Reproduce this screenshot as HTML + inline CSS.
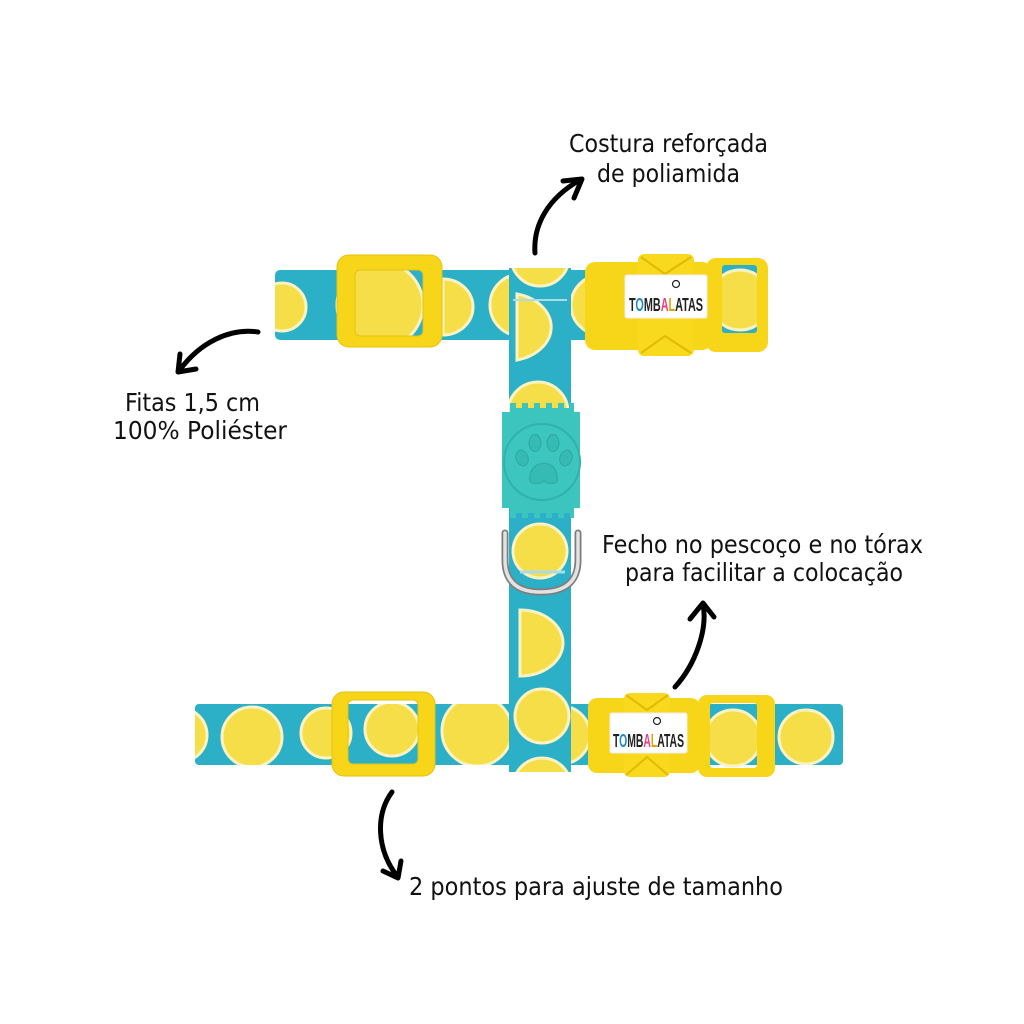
<!DOCTYPE html>
<html>
<head>
<meta charset="utf-8">
<style>
html,body{margin:0;padding:0;background:#fff;}
svg{display:block;}
.t{font-family:"DejaVu Sans","Liberation Sans",sans-serif;font-size:25px;fill:#111;}
.lb{font-family:"Liberation Sans",sans-serif;font-size:18px;font-weight:bold;}
</style>
</head>
<body>
<svg width="1024" height="1024" viewBox="0 0 1024 1024" xmlns="http://www.w3.org/2000/svg">
<defs>
<clipPath id="ctop"><rect x="275" y="270" width="320" height="70" rx="5"/></clipPath>
<clipPath id="cbot"><rect x="195" y="704" width="648" height="61" rx="4"/></clipPath>
<clipPath id="cver"><rect x="509" y="268" width="62" height="504"/></clipPath>
<clipPath id="cwin1"><rect x="722" y="265" width="35" height="68" rx="3"/></clipPath>
<clipPath id="cwin2"><rect x="710" y="703" width="47" height="65" rx="3"/></clipPath>
</defs>
<rect width="1024" height="1024" fill="#fff"/>

<!-- TOP STRAP -->
<rect x="275" y="270" width="320" height="70" rx="5" fill="#2cb0c8"/>
<g clip-path="url(#ctop)" fill="#f6de48" stroke="#fbf3c4" stroke-width="3">
  <circle cx="282" cy="307" r="24"/>
  <circle cx="380" cy="305" r="43"/>
  <path d="M443,279 A30,28 0 0 1 443,335 Z"/>
  <circle cx="521" cy="305" r="31"/>
  <circle cx="601" cy="305" r="30"/>
</g>

<!-- BOTTOM STRAP -->
<rect x="195" y="704" width="648" height="61" rx="4" fill="#2cb0c8"/>
<g clip-path="url(#cbot)" fill="#f6de48" stroke="#fbf3c4" stroke-width="3">
  <circle cx="180" cy="735" r="27"/>
  <circle cx="252" cy="737" r="30"/>
  <circle cx="326" cy="733" r="25"/>
  <circle cx="392" cy="729" r="27"/>
  <circle cx="477" cy="731" r="35"/>
  <circle cx="561" cy="735" r="29"/>
  <circle cx="806" cy="737" r="27"/>
</g>

<!-- VERTICAL STRAP -->
<rect x="509" y="268" width="62" height="504" fill="#2cb0c8"/>
<g clip-path="url(#cver)" fill="#f6de48" stroke="#fbf3c4" stroke-width="3">
  <circle cx="540" cy="257" r="29"/>
  <path d="M517,294 A45,34 0 0 1 517,360 Z"/>
  <circle cx="538" cy="412" r="30"/>
  <circle cx="540" cy="551" r="27"/>
  <path d="M520,610 A43,33 0 0 1 520,676 Z"/>
  <circle cx="542" cy="716" r="27"/>
  <circle cx="542" cy="787" r="29"/>
</g>
<line x1="513" y1="300" x2="567" y2="300" stroke="#a9dbe8" stroke-width="2"/>
<line x1="520" y1="572" x2="565" y2="572" stroke="#a9dbe8" stroke-width="3"/>

<!-- SLIDES -->
<path fill="#f7d61a" fill-rule="evenodd" stroke="#e6c20c" stroke-width="1" d="M349,255 H430 A12,12 0 0 1 442,267 V335 A12,12 0 0 1 430,347 H349 A12,12 0 0 1 337,335 V267 A12,12 0 0 1 349,255 Z M360,270 H418 A5,5 0 0 1 423,275 V331 A5,5 0 0 1 418,336 H360 A5,5 0 0 1 355,331 V275 A5,5 0 0 1 360,270 Z"/>
<path fill="#f7d61a" fill-rule="evenodd" stroke="#e6c20c" stroke-width="1" d="M344,692 H423 A12,12 0 0 1 435,704 V764 A12,12 0 0 1 423,776 H344 A12,12 0 0 1 332,764 V704 A12,12 0 0 1 344,692 Z M353,700 H413 A5,5 0 0 1 418,705 V759 A5,5 0 0 1 413,764 H353 A5,5 0 0 1 348,759 V705 A5,5 0 0 1 353,700 Z"/>

<!-- TOP BUCKLE -->
<rect x="700" y="265" width="65" height="70" fill="#2cb0c8"/>
<g clip-path="url(#cwin1)"><circle cx="740" cy="300" r="30" fill="#f6de48" stroke="#fbf3c4" stroke-width="3"/></g>
<rect x="585" y="262" width="127" height="88" rx="10" fill="#f7d61a"/>
<rect x="638" y="254" width="56" height="102" rx="6" fill="#f8d91e"/>
<path d="M641,257 L665,274 L691,257 M641,353 L665,336 L691,353" fill="none" stroke="#dfbb05" stroke-width="2"/>
<path fill="#f7d61a" fill-rule="evenodd" d="M716,258 H758 A10,10 0 0 1 768,268 V342 A10,10 0 0 1 758,352 H716 A10,10 0 0 1 706,342 V268 A10,10 0 0 1 716,258 Z M725,265 H754 A3,3 0 0 1 757,268 V330 A3,3 0 0 1 754,333 H725 A3,3 0 0 1 722,330 V268 A3,3 0 0 1 725,265 Z"/>
<rect x="625" y="275" width="82" height="43" rx="2" fill="#fff" stroke="#eee" stroke-width="1"/>
<circle cx="676" cy="284" r="3.5" fill="none" stroke="#222" stroke-width="1.2"/>
<text class="lb" x="629" y="311" textLength="74" lengthAdjust="spacingAndGlyphs"><tspan fill="#222">T</tspan><tspan fill="#1e8ccc">O</tspan><tspan fill="#222">MB</tspan><tspan fill="#e8408a">A</tspan><tspan fill="#d7a800">L</tspan><tspan fill="#222">ATAS</tspan></text>

<!-- BOTTOM BUCKLE -->
<rect x="695" y="705" width="70" height="60" fill="#2cb0c8"/>
<g clip-path="url(#cwin2)"><circle cx="733" cy="738" r="28" fill="#f6de48" stroke="#fbf3c4" stroke-width="3"/></g>
<rect x="588" y="698" width="112" height="75" rx="9" fill="#f7d61a"/>
<rect x="624" y="693" width="46" height="84" rx="6" fill="#f8d91e"/>
<path d="M626,695 L647,710 L668,695 M626,775 L647,757 L668,775" fill="none" stroke="#dfbb05" stroke-width="2"/>
<path fill="#f7d61a" fill-rule="evenodd" d="M707,695 H766 A9,9 0 0 1 775,704 V768 A9,9 0 0 1 766,777 H707 A9,9 0 0 1 698,768 V704 A9,9 0 0 1 707,695 Z M713,703 H754 A3,3 0 0 1 757,706 V765 A3,3 0 0 1 754,768 H713 A3,3 0 0 1 710,765 V706 A3,3 0 0 1 713,703 Z"/>
<rect x="610" y="713" width="77" height="40" rx="2" fill="#fff" stroke="#eee" stroke-width="1"/>
<circle cx="657" cy="721" r="3.5" fill="none" stroke="#222" stroke-width="1.2"/>
<text class="lb" x="613" y="747" textLength="71" lengthAdjust="spacingAndGlyphs"><tspan fill="#222">T</tspan><tspan fill="#1e8ccc">O</tspan><tspan fill="#222">MB</tspan><tspan fill="#e8408a">A</tspan><tspan fill="#d7a800">L</tspan><tspan fill="#222">ATAS</tspan></text>

<!-- D-RING -->
<path d="M505,533 V560 Q505,592 541,592 Q578,592 578,560 V533" fill="none" stroke="#7d7d7d" stroke-width="7" stroke-linecap="round"/>
<path d="M505,533 V560 Q505,592 541,592 Q578,592 578,560 V533" fill="none" stroke="#e2e2e2" stroke-width="3.5" stroke-linecap="round"/>

<!-- PAW CLIP -->
<g>
  <path fill="#3cc4be" d="M510,403 h6 v5 h6 v-5 h6 v5 h6 v-5 h6 v5 h6 v-5 h6 v5 h6 v-5 h6 v5 h6 v-5 h4 v9 h6 v96 h-6 v10 h-4 v-5 h-6 v5 h-6 v-5 h-6 v5 h-6 v-5 h-6 v5 h-6 v-5 h-6 v5 h-6 v-5 h-6 v5 h-6 v-10 h-8 v-96 h8 Z"/>
  <circle cx="542" cy="462" r="38" fill="#3dc6c0" stroke="#31b1ab" stroke-width="2"/>
  <g fill="#36bab4" stroke="#2ea8a2" stroke-width="1">
    <ellipse cx="522" cy="458" rx="6" ry="8" transform="rotate(-20 522 458)"/>
    <ellipse cx="535" cy="443" rx="6" ry="8.5"/>
    <ellipse cx="553" cy="443" rx="6" ry="8.5"/>
    <ellipse cx="566" cy="458" rx="6" ry="8" transform="rotate(20 566 458)"/>
    <path d="M530,482 Q528,465 544,463 Q559,465 557,482 Q550,486 544,481 Q537,486 530,482 Z"/>
  </g>
</g>

<!-- ARROWS -->
<g fill="none" stroke="#000" stroke-width="5" stroke-linecap="round" stroke-linejoin="round">
  <path d="M535,253 C533,225 548,198 580,180"/>
  <path d="M563,181 L582,179 L574,198"/>
  <path d="M258,332 C230,328 200,342 179,371"/>
  <path d="M180,354 L178,372 L196,369"/>
  <path d="M675,687 C695,665 708,630 703,604"/>
  <path d="M690,619 L703,603 L714,617"/>
  <path d="M392,792 C375,815 377,850 397,876"/>
  <path d="M383,871 L398,878 L401,861"/>
</g>

<!-- LABELS -->
<text class="t" x="569" y="152" textLength="199" lengthAdjust="spacingAndGlyphs">Costura reforçada</text>
<text class="t" x="597" y="182" textLength="143" lengthAdjust="spacingAndGlyphs">de poliamida</text>
<text class="t" x="125" y="411" textLength="135" lengthAdjust="spacingAndGlyphs">Fitas 1,5 cm</text>
<text class="t" x="113" y="439" textLength="174" lengthAdjust="spacingAndGlyphs">100% Poliéster</text>
<text class="t" x="602" y="553" textLength="321" lengthAdjust="spacingAndGlyphs">Fecho no pescoço e no tórax</text>
<text class="t" x="625" y="581" textLength="278" lengthAdjust="spacingAndGlyphs">para facilitar a colocação</text>
<text class="t" x="409" y="895" textLength="374" lengthAdjust="spacingAndGlyphs">2 pontos para ajuste de tamanho</text>
</svg>
</body>
</html>
